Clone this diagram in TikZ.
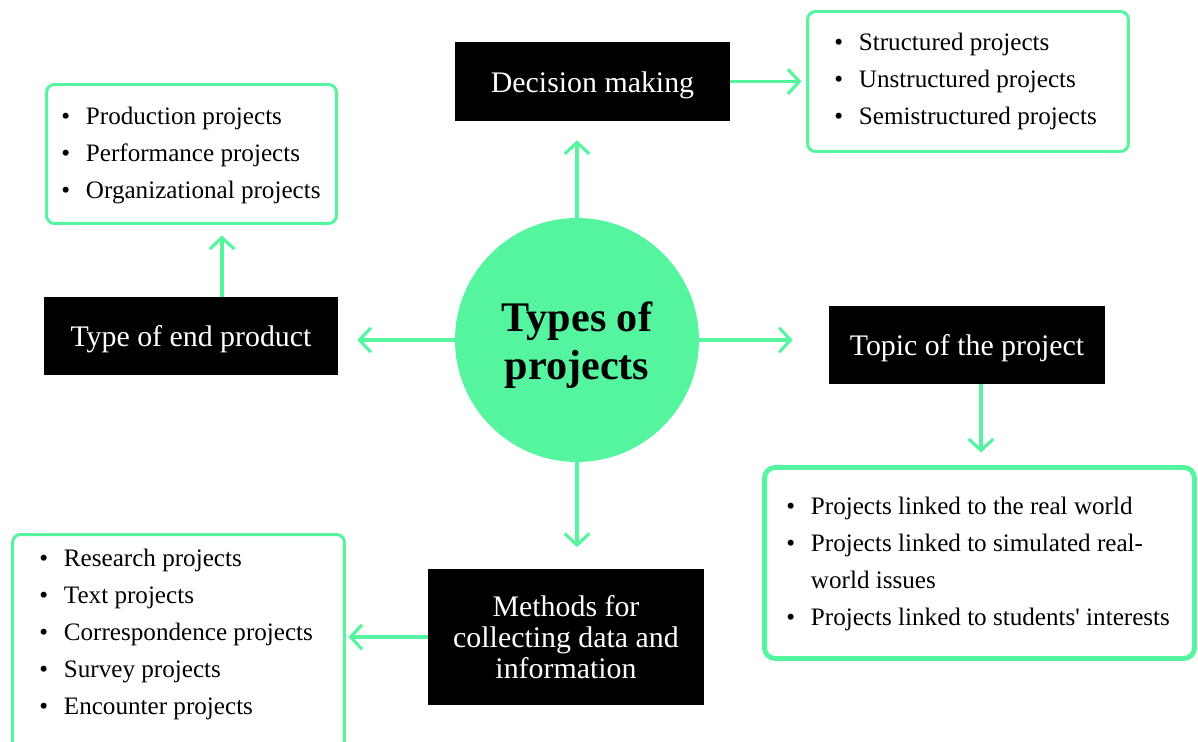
\documentclass[tikz,border=0pt]{standalone}
\usepackage{fontspec}
\setmainfont{Liberation Serif}
\usetikzlibrary{arrows.meta,calc}
\definecolor{mint}{RGB}{85,245,160}
\newcommand\bl{\makebox[14pt][l]{\textbullet}}
\tikzset{
  blackbox/.style={fill=black, draw=none, text=white, font=\fontsize{17}{17.6}\selectfont, align=center, inner sep=0pt},
  oneline/.style={text height=12pt, text depth=0pt},
  listbox/.style={draw=mint, line width=1.7pt, rounded corners=4.5pt, fill=white, inner sep=0pt},
  listtext/.style={anchor=north west, inner sep=0pt, align=left, font=\fontsize{14.3}{21}\selectfont},
  conn/.style={draw=mint, line width=1.8pt, -{Straight Barb[length=6.5pt,width=14pt]}},
  hub/.style={circle, fill=mint, draw=none, minimum size=4.88cm, inner sep=0pt},
  hubtext/.style={font=\fontsize{24}{27}\selectfont\bfseries, align=center, inner sep=0pt}
}
\begin{document}
\begin{tikzpicture}[x=0.02cm,y=-0.02cm]
\useasboundingbox (0,0) rectangle (1198,742);
\clip (0,0) rectangle (1198,742);
% hub
\node[hub] (circ) at (577,340) {};
\node[hubtext] (title) at (577,345) {Types of\\projects};
% black boxes
\node[blackbox, oneline, minimum width=5.5cm, minimum height=1.58cm] (dm) at (592.5,81.5) {Decision making};
\node[blackbox, oneline, minimum width=5.88cm, minimum height=1.56cm] (tep) at (191,336) {Type of end product};
\node[blackbox, oneline, minimum width=5.52cm, minimum height=1.56cm] (top) at (967,345) {Topic of the project};
\node[blackbox, minimum width=5.52cm, minimum height=2.74cm] (meth) at (566,637) {Methods for\\collecting data and\\information};
% list boxes
\node[listbox, minimum width=5.8cm, minimum height=2.78cm] (pb) at (191.5,154) {};
\node[listbox, minimum width=6.42cm, minimum height=2.8cm] (sb) at (968,81.5) {};
\node[listbox, line width=2.8pt, rounded corners=6pt, minimum width=8.6cm, minimum height=3.82cm] (pl) at (979.5,563) {};
\node[listbox, minimum width=6.64cm, minimum height=4.9cm] (rb) at (178.5,657) {};
% list texts
\node[listtext] (pbt) at (61,107) {\bl Production projects\\\bl Performance projects\\\bl Organizational projects};
\node[listtext] (sbt) at (834,33) {\bl Structured projects\\\bl Unstructured projects\\\bl Semistructured projects};
\node[listtext] (plt) at (786,497) {\bl Projects linked to the real world\\\bl Projects linked to simulated real-\\\hspace*{14pt}world issues\\\bl Projects linked to students\textquotesingle{} interests};
\node[listtext] (rbt) at (39,549) {\bl Research projects\\\bl Text projects\\\bl Correspondence projects\\\bl Survey projects\\\bl Encounter projects};
% connectors
\draw[conn, shorten >=0.38cm] (circ.north) -- (circ.north |- dm.south);
\draw[conn, shorten >=0.09cm] (dm.east) -- (sb.west);
\draw[conn, shorten >=0.38cm] (circ.west) -- (circ.west -| tep.east);
\coordinate (a4s) at ([xshift=0.62cm]tep.north);
\draw[conn, shorten >=0.21cm] (a4s) -- (a4s |- pb.south);
\draw[conn, shorten >=0.72cm] (circ.east) -- (circ.east -| top.west);
\coordinate (a6s) at ([xshift=0.28cm]top.south);
\draw[conn, shorten >=0.25cm] (a6s) -- (a6s |- pl.north);
\draw[conn, shorten >=0.42cm] (circ.south) -- (circ.south |- meth.north);
\draw[conn, shorten >=0.05cm] (meth.west) -- (meth.west -| rb.east);
\end{tikzpicture}
\end{document}
